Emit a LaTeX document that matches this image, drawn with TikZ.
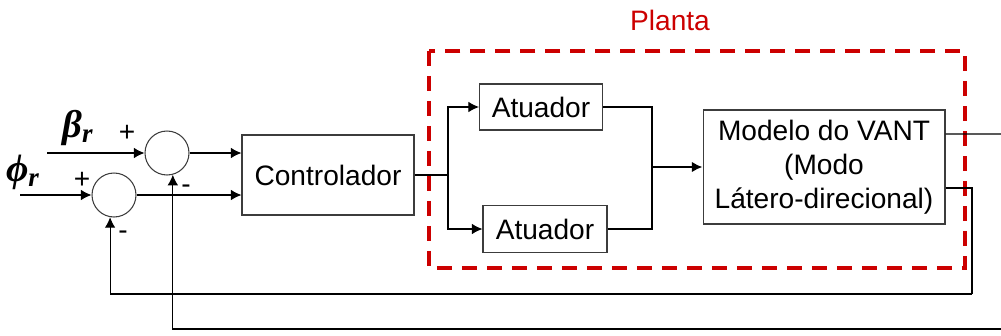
\documentclass[tikz,border=0pt]{standalone}
\usepackage{fontspec}
\setmainfont{Liberation Sans}
\newfontfamily\greekfont{Liberation Serif}
\usepackage{tikz}
\usetikzlibrary{arrows.meta}
\definecolor{pred}  {RGB}{204,0,0}
\definecolor{bgray} {RGB}{60,60,60}
\tikzset{
    block/.style={draw=bgray, line width=0.6pt, inner sep=0pt, align=center,
             font=\fontsize{16}{19.3}\selectfont},
    sumnode/.style={draw=bgray, line width=0.6pt, circle, minimum size=0.88cm, inner sep=0pt},
    signal/.style={draw=black, line width=0.6pt, -{Latex[length=6pt,width=6pt]}},
    wire/.style={draw=black, line width=0.6pt},
    plant/.style={draw=pred, line width=2.2pt, dash pattern=on 0.3cm off 0.2cm},
    sign/.style={font=\fontsize{16}{19}\selectfont, inner sep=0pt},
    refsig/.style={font=\greekfont\bfseries\itshape\fontsize{22}{24}\selectfont, inner sep=0pt}
  }
\begin{document}
\begin{tikzpicture}[x=0.02cm, y=-0.02cm]
      \useasboundingbox (0,0) rectangle (1001,335);
  %Planta frame
      \draw[plant] (429,51) rectangle (965,268);
      \node[font=\fontsize{16}{19}\selectfont, text=pred] (plantlabel) at (670,20) {Planta};
  %Blocks
      \node[sumnode] (sumphi) at (114,195) {};
      \node[sumnode] (sumbeta) at (167,153) {};
      \node[block, minimum width=3.44cm, minimum height=1.6cm] (ctrl) at (328,175) {Controlador};
      \node[block, minimum width=2.46cm, minimum height=0.92cm] (act1) at (541,107) {Atuador};
      \node[block, minimum width=2.48cm, minimum height=0.94cm] (act2) at (545,229) {Atuador};
      \node[block, minimum width=4.84cm, minimum height=2.28cm] (model) at (824,167)
            {Modelo do VANT\\(Modo\\Látero-direcional)};
  %Labels
      \node[refsig] (betar) at (78,128) {β\textsubscript{r}};
      \node[refsig] (phir) at (23,172) {ϕ\textsubscript{r}};
      \node[sign] (plusbeta) at (127,133) {+};
      \node[sign] (plusphi) at (82,180) {+};
      \node[sign] (minbeta) at (186,189) {-};
      \node[sign] (minphi) at (123,235) {-};
  %Points
      \coordinate (betain) at (47,153);
      \coordinate (phiin) at (20,195);
      \coordinate (split) at (448,175);
      \coordinate (join) at (652,167);
      \coordinate (yout) at (1001,134);
      \coordinate (fbturn) at (972,294);
      \coordinate (fbout) at (1001,329);
  %Inputs
      \draw[signal] (betain) -- (sumbeta.west);
      \draw[signal] (phiin) -- (sumphi.west);
      \draw[signal] (sumbeta.east) -- (ctrl.west |- sumbeta.east);
      \draw[signal] (sumphi.east) -- (ctrl.west |- sumphi.east);
  %Actuators
      \draw[wire] (ctrl.east) -- (split);
      \draw[signal] (split) |- (act1.west);
      \draw[signal] (split) |- (act2.west);
      \draw[wire] (act1.east) -| (join);
      \draw[wire] (act2.east) -| (join);
      \draw[signal, line width=1.2pt] (join) -- (model.west |- join);
  %Outputs and feedback
      \draw[wire] ([yshift=0.66cm]model.east) -- (yout);
      \draw[wire] ([yshift=-0.42cm]model.east) -| (fbturn);
      \draw[signal] (fbturn) -| (sumphi.-100);
      \draw[signal] (fbout) -| (sumbeta.-75);
\end{tikzpicture}
\end{document}
